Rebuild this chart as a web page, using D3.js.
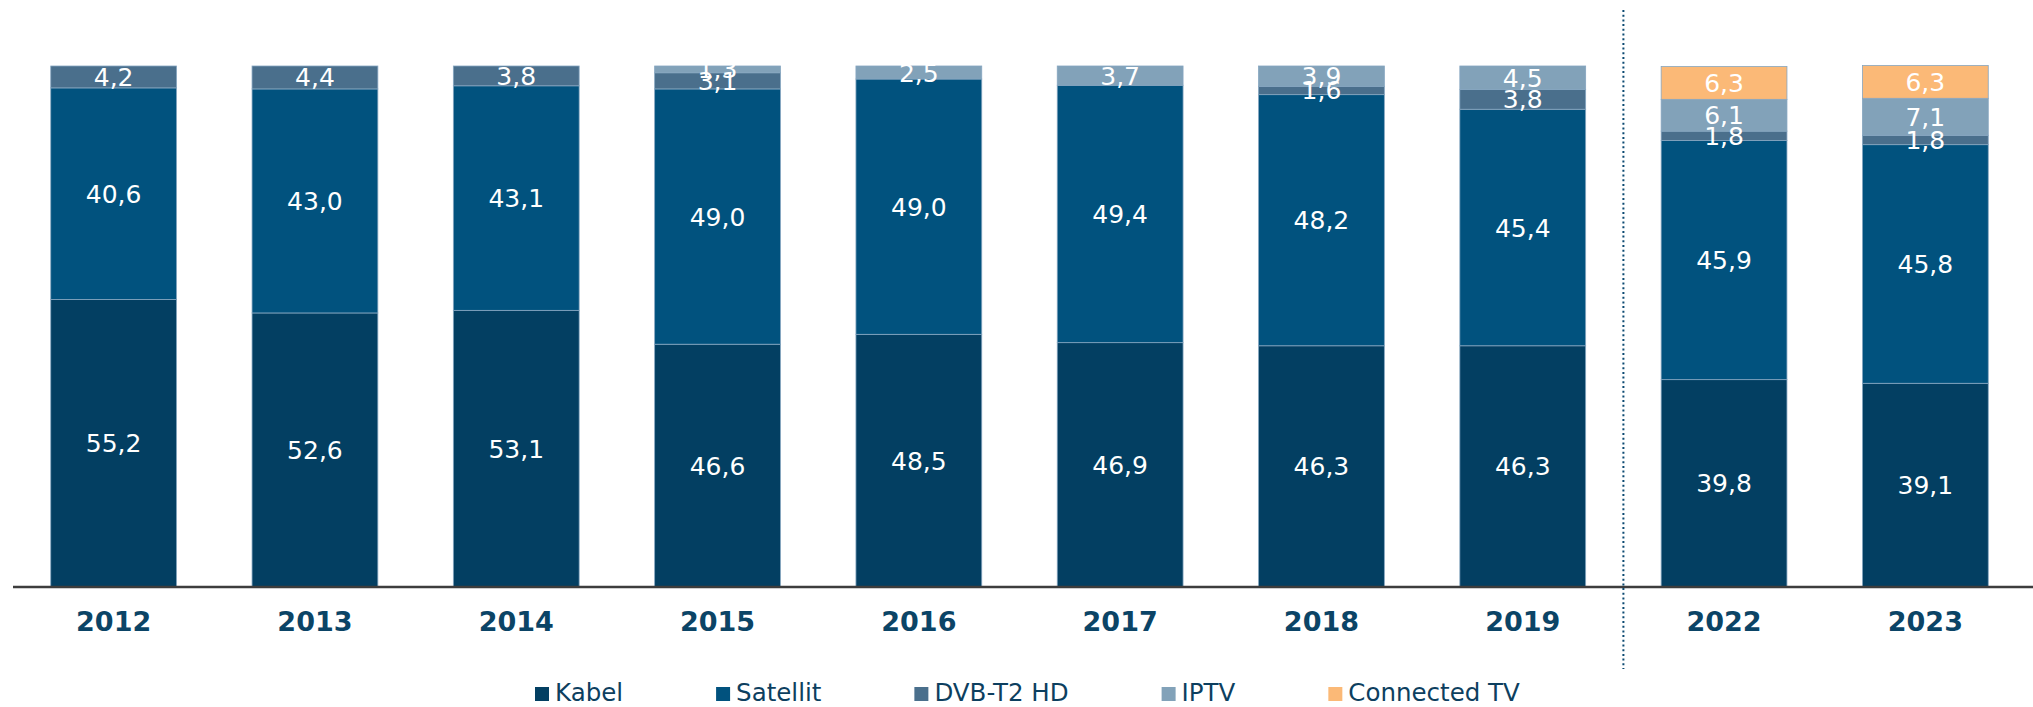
<!DOCTYPE html>
<html>
<head>
<meta charset="utf-8">
<script src="https://cdn.jsdelivr.net/npm/d3@7"></script>
<style>
  body { margin: 0; background: #fff; }
  svg { display: block; font-family: "DejaVu Sans", Verdana, sans-serif; }
</style>
</head>
<body>
<div id="chart"></div>
<script>
// data (shares in %)
var years = ['2012', '2013', '2014', '2015', '2016', '2017', '2018', '2019', '2022', '2023'];
var kabel = [55.2, 52.6, 53.1, 46.6, 48.5, 46.9, 46.3, 46.3, 39.8, 39.1];
var satellit = [40.6, 43.0, 43.1, 49.0, 49.0, 49.4, 48.2, 45.4, 45.9, 45.8];
var dvbt2 = [4.2, 4.4, 3.8, 3.1, 0, 0, 1.6, 3.8, 1.8, 1.8];
var iptv = [0, 0, 0, 1.3, 2.5, 3.7, 3.9, 4.5, 6.1, 7.1];
var connectedTv = [0, 0, 0, 0, 0, 0, 0, 0, 6.3, 6.3];
var series_names = ['Kabel', 'Satellit', 'DVB-T2 HD', 'IPTV', 'Connected TV'];
var series_colors = ['#033f62', '#01527e', '#4a6f8c', '#82a2b9', '#fbb977'];
var split_after = '2019';

const svg_width = 2033
const svg_height = 707
const baseline_y = 587
const top_y = 66

var svg = d3.select('#chart').append('svg')
  .attr('width', svg_width)
  .attr('height', svg_height);

// build table for the stack
var series_values = [kabel, satellit, dvbt2, iptv, connectedTv];
var table = years.map(function(y, i){
  var row = {year: y};
  series_names.forEach(function(s, j){ row[s] = series_values[j][i]; });
  return row;
});
var stacked = d3.stack().keys(series_names)(table);

var x_scale = d3.scaleBand()
  .domain(years)
  .range([13, 2026])
  .paddingInner(0.375)
  .paddingOuter(0.1875);

var y_scale = d3.scaleLinear()
  .domain([0, 100])
  .range([baseline_y, top_y]);

var color = d3.scaleOrdinal().domain(series_names).range(series_colors);

var fmt = function(v){ return d3.format('.1f')(v).replace('.', ','); };

// bars
var layers = svg.append('g').selectAll('g')
  .data(stacked)
  .enter().append('g')
  .attr('fill', d => color(d.key));

layers.selectAll('rect')
  .data(d => d.filter(p => p[1] - p[0] > 0))
  .enter().append('rect')
  .attr('x', d => x_scale(d.data.year))
  .attr('y', d => y_scale(d[1]))
  .attr('width', x_scale.bandwidth())
  .attr('height', d => y_scale(d[0]) - y_scale(d[1]))
  .attr('stroke', '#86a6c0')
  .attr('stroke-width', 0.8);

// value labels (centred in their segment, small ones may overlap as in the source)
var labels = svg.append('g');
stacked.forEach(function(layer){
  layer.forEach(function(p){
    var v = p[1] - p[0];
    if (!(v > 0)) return;
    labels.append('text')
      .attr('x', x_scale(p.data.year) + x_scale.bandwidth() / 2)
      .attr('y', y_scale((p[0] + p[1]) / 2))
      .attr('dy', '0.36em')
      .attr('text-anchor', 'middle')
      .attr('fill', '#fff')
      .style('font-size', '25px')
      .text(fmt(p.data[layer.key]));
  });
});

// x axis
var x_axis = d3.axisBottom(x_scale).tickSize(0).tickSizeOuter(0);
var axis_g = svg.append('g')
  .attr('transform', `translate(0,${baseline_y})`)
  .call(x_axis);
axis_g.select('.domain').remove();
axis_g.append('line')
  .attr('x1', 13).attr('x2', svg_width)
  .attr('y1', 0).attr('y2', 0)
  .attr('stroke', '#3d3d3d')
  .attr('stroke-width', 2.5);
axis_g.selectAll('.tick text')
  .attr('y', 44)
  .attr('dy', null)
  .attr('fill', '#0b4466')
  .style('font-family', '"DejaVu Sans", Verdana, sans-serif')
  .style('font-size', '27px')
  .style('font-weight', 'bold');

// dotted separator between 2019 and 2022
var i_split = years.indexOf(split_after);
var split_x = (x_scale(years[i_split]) + x_scale.bandwidth() + x_scale(years[i_split + 1])) / 2;
svg.append('line')
  .attr('x1', split_x).attr('x2', split_x)
  .attr('y1', 10).attr('y2', 669)
  .attr('stroke', '#0c4a72')
  .attr('stroke-width', 2)
  .attr('stroke-dasharray', '2,2.7');

// legend
var legend = svg.append('g').attr('transform', 'translate(535,0)');
var lx = 0;
series_names.forEach(function(s){
  legend.append('rect')
    .attr('x', lx).attr('y', 687)
    .attr('width', 14).attr('height', 14)
    .attr('fill', color(s));
  var t = legend.append('text')
    .attr('x', lx + 20).attr('y', 701)
    .attr('fill', '#0d3f5f')
    .style('font-size', '24.5px')
    .text(s);
  lx += 20 + t.node().getComputedTextLength() + 93;
});
</script>
</body>
</html>
